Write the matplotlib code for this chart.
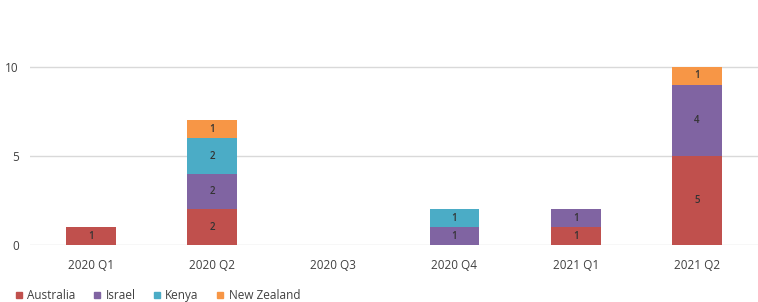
import matplotlib
matplotlib.use("Agg")
import matplotlib.pyplot as plt
from matplotlib.lines import Line2D
import numpy as np

categories = ["2020 Q1", "2020 Q2", "2020 Q3", "2020 Q4", "2021 Q1", "2021 Q2"]
australia = [1, 2, 0, 0, 1, 5]
israel = [0, 2, 0, 1, 1, 4]
kenya = [0, 2, 0, 1, 0, 0]
new_zealand = [0, 1, 0, 0, 0, 1]
series = [("Australia", australia, "#C0504D"),
          ("Israel", israel, "#8064A2"),
          ("Kenya", kenya, "#4BACC6"),
          ("New Zealand", new_zealand, "#F79646")]
yticks = [0, 5, 10]

plt.rcParams['font.family'] = ['Open Sans', 'DejaVu Sans']
fig = plt.figure(figsize=(7.58, 3.02), dpi=100)
ax = fig.add_axes([0.0396, 0.1887, 0.96, 0.707])

x = np.arange(len(categories))
bottom = np.zeros(len(categories))
for name, vals, col in series:
    v = np.array(vals, dtype=float)
    ax.bar(x, v, 0.41, bottom=bottom, color=col, zorder=3)
    for xi, vi, bi in zip(x, v, bottom):
        if vi > 0:
            ax.text(xi, bi + vi / 2, str(int(vi)), ha='center', va='center',
                    fontsize=7, color='#333333', fontweight='semibold', zorder=4)
    bottom += v

ax.set_xlim(-0.5, len(categories) - 0.5)
ax.set_ylim(0, 12)
ax.set_yticks(yticks)
ax.set_xticks(x)
ax.set_xticklabels(categories)
ax.yaxis.grid(True, color='#D9D9D9', linewidth=1, zorder=0)
for s in ax.spines.values():
    s.set_visible(False)
ax.tick_params(axis='both', length=0, labelsize=8.5, colors='#404040')
ax.tick_params(axis='x', pad=10)
ax.tick_params(axis='y', pad=8)

handles = [Line2D([0], [0], marker='s', linestyle='', markersize=5,
                  markerfacecolor=c, markeredgecolor=c) for _, _, c in series]
fig.legend(handles, [n for n, _, _ in series], loc='lower left',
           bbox_to_anchor=(0.005, -0.035), ncol=4, frameon=False, fontsize=8.5,
           handlelength=0.8, handletextpad=0.3, columnspacing=1.42,
           labelcolor='#404040')

fig.savefig("out.png", dpi=100)
